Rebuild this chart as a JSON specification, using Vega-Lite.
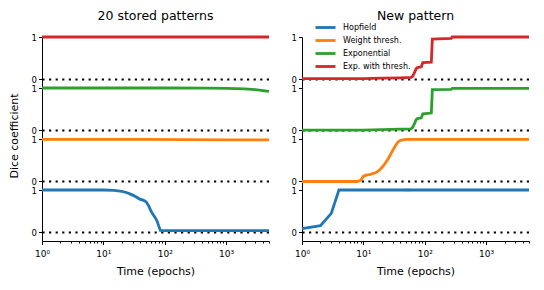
{
  "$schema": "https://vega.github.io/schema/vega-lite/v6.json",
  "padding": {"left": 8, "top": 9, "right": 5, "bottom": 5},
  "bounds": "flush",
  "data": {"values": [
    {"c": "20 stored patterns", "m": "Exp. with thresh.", "t": 1, "v": 1},
    {"c": "20 stored patterns", "m": "Exp. with thresh.", "t": 100, "v": 1},
    {"c": "20 stored patterns", "m": "Exp. with thresh.", "t": 5000, "v": 1},
    {"c": "20 stored patterns", "m": "Exponential", "t": 1, "v": 1},
    {"c": "20 stored patterns", "m": "Exponential", "t": 100, "v": 1},
    {"c": "20 stored patterns", "m": "Exponential", "t": 500, "v": 0.997},
    {"c": "20 stored patterns", "m": "Exponential", "t": 1000, "v": 0.99},
    {"c": "20 stored patterns", "m": "Exponential", "t": 2000, "v": 0.98},
    {"c": "20 stored patterns", "m": "Exponential", "t": 3000, "v": 0.96},
    {"c": "20 stored patterns", "m": "Exponential", "t": 4000, "v": 0.94},
    {"c": "20 stored patterns", "m": "Exponential", "t": 5000, "v": 0.92},
    {"c": "20 stored patterns", "m": "Weight thresh.", "t": 1, "v": 0.99},
    {"c": "20 stored patterns", "m": "Weight thresh.", "t": 50, "v": 0.99},
    {"c": "20 stored patterns", "m": "Weight thresh.", "t": 200, "v": 0.985},
    {"c": "20 stored patterns", "m": "Weight thresh.", "t": 1000, "v": 0.98},
    {"c": "20 stored patterns", "m": "Weight thresh.", "t": 5000, "v": 0.978},
    {"c": "20 stored patterns", "m": "Hopfield", "t": 1, "v": 1},
    {"c": "20 stored patterns", "m": "Hopfield", "t": 10, "v": 1},
    {"c": "20 stored patterns", "m": "Hopfield", "t": 15, "v": 0.99, "lo": 0.98, "hi": 1.0},
    {"c": "20 stored patterns", "m": "Hopfield", "t": 20, "v": 0.97, "lo": 0.95, "hi": 0.99},
    {"c": "20 stored patterns", "m": "Hopfield", "t": 25, "v": 0.93, "lo": 0.9, "hi": 0.96},
    {"c": "20 stored patterns", "m": "Hopfield", "t": 30, "v": 0.88, "lo": 0.84, "hi": 0.92},
    {"c": "20 stored patterns", "m": "Hopfield", "t": 35, "v": 0.83, "lo": 0.79, "hi": 0.87},
    {"c": "20 stored patterns", "m": "Hopfield", "t": 40, "v": 0.78, "lo": 0.74, "hi": 0.82},
    {"c": "20 stored patterns", "m": "Hopfield", "t": 45, "v": 0.76, "lo": 0.72, "hi": 0.8},
    {"c": "20 stored patterns", "m": "Hopfield", "t": 50, "v": 0.72, "lo": 0.68, "hi": 0.76},
    {"c": "20 stored patterns", "m": "Hopfield", "t": 55, "v": 0.62, "lo": 0.58, "hi": 0.66},
    {"c": "20 stored patterns", "m": "Hopfield", "t": 60, "v": 0.5, "lo": 0.46, "hi": 0.54},
    {"c": "20 stored patterns", "m": "Hopfield", "t": 65, "v": 0.42, "lo": 0.39, "hi": 0.45},
    {"c": "20 stored patterns", "m": "Hopfield", "t": 70, "v": 0.35, "lo": 0.32, "hi": 0.38},
    {"c": "20 stored patterns", "m": "Hopfield", "t": 75, "v": 0.27, "lo": 0.25, "hi": 0.29},
    {"c": "20 stored patterns", "m": "Hopfield", "t": 80, "v": 0.15, "lo": 0.14, "hi": 0.16},
    {"c": "20 stored patterns", "m": "Hopfield", "t": 85, "v": 0.05},
    {"c": "20 stored patterns", "m": "Hopfield", "t": 100, "v": 0.045},
    {"c": "20 stored patterns", "m": "Hopfield", "t": 5000, "v": 0.045},
    {"c": "New pattern", "m": "Exp. with thresh.", "t": 1, "v": 0.02},
    {"c": "New pattern", "m": "Exp. with thresh.", "t": 10, "v": 0.02},
    {"c": "New pattern", "m": "Exp. with thresh.", "t": 20, "v": 0.03},
    {"c": "New pattern", "m": "Exp. with thresh.", "t": 40, "v": 0.04},
    {"c": "New pattern", "m": "Exp. with thresh.", "t": 60, "v": 0.05},
    {"c": "New pattern", "m": "Exp. with thresh.", "t": 64, "v": 0.08},
    {"c": "New pattern", "m": "Exp. with thresh.", "t": 68, "v": 0.16},
    {"c": "New pattern", "m": "Exp. with thresh.", "t": 72, "v": 0.25},
    {"c": "New pattern", "m": "Exp. with thresh.", "t": 76, "v": 0.28},
    {"c": "New pattern", "m": "Exp. with thresh.", "t": 88, "v": 0.3},
    {"c": "New pattern", "m": "Exp. with thresh.", "t": 93, "v": 0.4},
    {"c": "New pattern", "m": "Exp. with thresh.", "t": 128, "v": 0.41},
    {"c": "New pattern", "m": "Exp. with thresh.", "t": 133, "v": 0.95},
    {"c": "New pattern", "m": "Exp. with thresh.", "t": 270, "v": 0.97},
    {"c": "New pattern", "m": "Exp. with thresh.", "t": 280, "v": 1.0},
    {"c": "New pattern", "m": "Exp. with thresh.", "t": 5000, "v": 1.0},
    {"c": "New pattern", "m": "Exponential", "t": 1, "v": 0.01},
    {"c": "New pattern", "m": "Exponential", "t": 10, "v": 0.01},
    {"c": "New pattern", "m": "Exponential", "t": 20, "v": 0.02},
    {"c": "New pattern", "m": "Exponential", "t": 40, "v": 0.03},
    {"c": "New pattern", "m": "Exponential", "t": 60, "v": 0.04},
    {"c": "New pattern", "m": "Exponential", "t": 64, "v": 0.08},
    {"c": "New pattern", "m": "Exponential", "t": 68, "v": 0.16},
    {"c": "New pattern", "m": "Exponential", "t": 72, "v": 0.25},
    {"c": "New pattern", "m": "Exponential", "t": 76, "v": 0.28},
    {"c": "New pattern", "m": "Exponential", "t": 88, "v": 0.3},
    {"c": "New pattern", "m": "Exponential", "t": 93, "v": 0.39},
    {"c": "New pattern", "m": "Exponential", "t": 128, "v": 0.41},
    {"c": "New pattern", "m": "Exponential", "t": 133, "v": 0.96},
    {"c": "New pattern", "m": "Exponential", "t": 270, "v": 0.97},
    {"c": "New pattern", "m": "Exponential", "t": 280, "v": 0.99},
    {"c": "New pattern", "m": "Exponential", "t": 5000, "v": 0.99},
    {"c": "New pattern", "m": "Weight thresh.", "t": 1, "v": 0.0},
    {"c": "New pattern", "m": "Weight thresh.", "t": 8, "v": 0.0},
    {"c": "New pattern", "m": "Weight thresh.", "t": 9, "v": 0.03},
    {"c": "New pattern", "m": "Weight thresh.", "t": 10, "v": 0.12},
    {"c": "New pattern", "m": "Weight thresh.", "t": 11, "v": 0.15},
    {"c": "New pattern", "m": "Weight thresh.", "t": 13, "v": 0.17},
    {"c": "New pattern", "m": "Weight thresh.", "t": 16, "v": 0.21},
    {"c": "New pattern", "m": "Weight thresh.", "t": 18, "v": 0.26},
    {"c": "New pattern", "m": "Weight thresh.", "t": 20, "v": 0.33},
    {"c": "New pattern", "m": "Weight thresh.", "t": 22, "v": 0.4},
    {"c": "New pattern", "m": "Weight thresh.", "t": 25, "v": 0.52},
    {"c": "New pattern", "m": "Weight thresh.", "t": 28, "v": 0.65},
    {"c": "New pattern", "m": "Weight thresh.", "t": 32, "v": 0.8},
    {"c": "New pattern", "m": "Weight thresh.", "t": 36, "v": 0.92},
    {"c": "New pattern", "m": "Weight thresh.", "t": 40, "v": 0.97},
    {"c": "New pattern", "m": "Weight thresh.", "t": 50, "v": 0.99},
    {"c": "New pattern", "m": "Weight thresh.", "t": 5000, "v": 0.99},
    {"c": "New pattern", "m": "Hopfield", "t": 1, "v": 0.09},
    {"c": "New pattern", "m": "Hopfield", "t": 2, "v": 0.16},
    {"c": "New pattern", "m": "Hopfield", "t": 3, "v": 0.45},
    {"c": "New pattern", "m": "Hopfield", "t": 4, "v": 1.0},
    {"c": "New pattern", "m": "Hopfield", "t": 20, "v": 1.0, "lo": 1.0, "hi": 1.0},
    {"c": "New pattern", "m": "Hopfield", "t": 30, "v": 1.0, "lo": 0.98, "hi": 1.02},
    {"c": "New pattern", "m": "Hopfield", "t": 45, "v": 1.0, "lo": 0.97, "hi": 1.03},
    {"c": "New pattern", "m": "Hopfield", "t": 55, "v": 1.0, "lo": 0.96, "hi": 1.04},
    {"c": "New pattern", "m": "Hopfield", "t": 65, "v": 1.0, "lo": 0.98, "hi": 1.02},
    {"c": "New pattern", "m": "Hopfield", "t": 85, "v": 1.0, "lo": 1.0, "hi": 1.0},
    {"c": "New pattern", "m": "Hopfield", "t": 5000, "v": 1.0}
  ]},
  "facet": {
    "row": {"field": "m", "type": "nominal", "sort": ["Exp. with thresh.", "Exponential", "Weight thresh.", "Hopfield"], "title": "Dice coefficient", "header": {"labels": false, "titleFontSize": 11, "titleFontWeight": "normal", "titleColor": "black", "titlePadding": 12}},
    "column": {"field": "c", "type": "nominal", "sort": ["20 stored patterns", "New pattern"], "title": null, "header": {"labelFontSize": 12.5, "labelColor": "black", "labelPadding": 15}}
  },
  "spacing": {"row": 0, "column": 33},
  "resolve": {"axis": {"y": "independent"}},
  "spec": {
    "width": 227,
    "height": 51,
    "layer": [
      {
        "transform": [{"filter": "isValid(datum.lo)"}],
        "mark": {"type": "area", "color": "#1f77b4", "opacity": 0.3},
        "encoding": {
          "x": {"field": "t", "type": "quantitative", "scale": {"type": "log", "domain": [1, 5000], "nice": false}},
          "y": {"field": "lo", "type": "quantitative", "scale": {"domain": [-0.2, 1.0], "nice": false, "zero": false}},
          "y2": {"field": "hi"}
        }
      },
      {
        "transform": [{"filter": "datum.t == 1"}],
        "mark": {"type": "rule", "color": "black", "strokeDash": [2.2, 4.4], "strokeWidth": 2.2},
        "encoding": {"y": {"datum": 0}}
      },
      {
        "mark": {"type": "line", "strokeWidth": 2.8, "strokeCap": "butt"},
        "encoding": {
          "x": {"field": "t", "type": "quantitative", "scale": {"type": "log", "domain": [1, 5000], "nice": false},
            "axis": {"title": "Time (epochs)", "values": [1,2,3,4,5,6,7,8,9,10,20,30,40,50,60,70,80,90,100,200,300,400,500,600,700,800,900,1000,2000,3000,4000,5000],
              "labelExpr": "datum.value == 1 ? '10⁰' : datum.value == 10 ? '10¹' : datum.value == 100 ? '10²' : datum.value == 1000 ? '10³' : ''",
              "tickSize": {"condition": {"test": "indexof([1,10,100,1000], datum.value) >= 0", "value": 3.5}, "value": 2},
              "labelFlush": false, "labelOverlap": false, "labelPadding": 5, "labelFontSize": 9, "titlePadding": 7}},
          "y": {"field": "v", "type": "quantitative", "scale": {"domain": [-0.2, 1.0], "nice": false, "zero": false},
            "axis": {"title": null, "values": [0, 1], "format": "d", "tickSize": 3.5, "labelPadding": 2, "labelFontSize": 8.5}},
          "color": {"field": "m", "type": "nominal", "scale": {"domain": ["Hopfield", "Weight thresh.", "Exponential", "Exp. with thresh."], "range": ["#1f77b4", "#ff7f0e", "#2ca02c", "#d62728"]},
            "legend": {"title": null, "orient": "none", "legendX": 277, "legendY": -16, "symbolType": "M-2,0H2", "symbolSize": 100, "symbolStrokeWidth": 2.8, "symbolFillColor": "transparent", "labelFontSize": 8, "labelColor": "black", "rowPadding": 0, "padding": 0, "labelOffset": 11}}
        }
      }
    ]
  },
  "config": {
    "font": "DejaVu Sans",
    "view": {"stroke": null},
    "axis": {"grid": false, "domainColor": "black", "tickColor": "black", "labelColor": "black", "titleColor": "black", "labelFontSize": 8, "titleFontSize": 11, "titleFontWeight": "normal", "domainWidth": 1, "tickWidth": 1},
    "header": {"labelFont": "DejaVu Sans", "titleFont": "DejaVu Sans"}
  }
}
